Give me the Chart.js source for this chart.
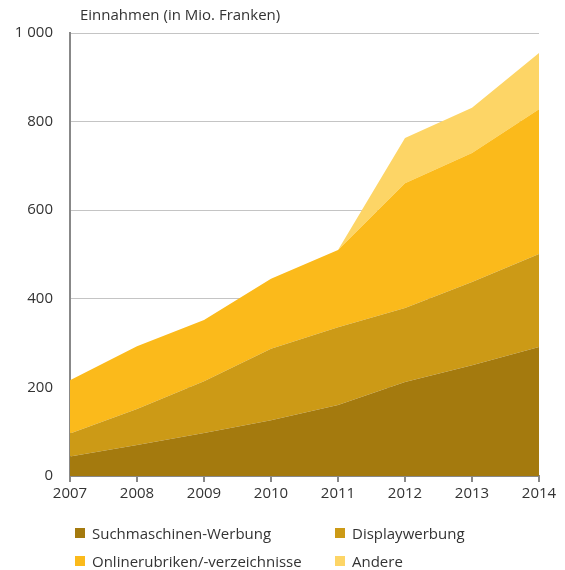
<!DOCTYPE html>
<html><head><meta charset="utf-8">
<script src="https://cdn.jsdelivr.net/npm/chart.js@4/dist/chart.umd.min.js"></script>
<style>
html,body{margin:0;padding:0;background:#fff;}
#wrap{position:relative;width:565px;height:570px;}
#legend{position:absolute;left:0;top:523px;width:565px;font-family:"Open Sans","Noto Sans",sans-serif;font-size:15px;color:#333;}
.li{position:absolute;display:flex;align-items:center;white-space:nowrap;}
.sw{width:10px;height:10px;margin-right:7px;}
</style></head>
<body><div id="wrap"><canvas id="c" width="565" height="570"></canvas><div id="legend"></div></div>
<script>
const years = ["2007","2008","2009","2010","2011","2012","2013","2014"];
const suchmaschinen = [44, 70, 97, 126, 160, 212, 250, 291];
const display = [52, 81, 117, 161, 176, 167, 188, 210];
const online = [120, 142, 138, 158, 174, 282, 291, 327];
const andere = [0, 0, 0, 0, 0, 102, 102, 127];
const seriesNames = ["Suchmaschinen-Werbung","Displaywerbung","Onlinerubriken/-verzeichnisse","Andere"];
const colors = ["#A47A0E","#CC9A16","#FBBA1B","#FDD566"];
const yTicks = [0,200,400,600,800,1000];

const FONT = '"Open Sans","Noto Sans",sans-serif';
const values = [suchmaschinen, display, online, andere];
const datasets = values.map((v,i)=>({
  label: seriesNames[i], data: v, backgroundColor: colors[i], borderColor: colors[i],
  borderWidth: 0, pointRadius: 0, fill: i===0 ? 'origin' : '-1', tension: 0
}));

const titlePlugin = {
  id:'ytitle',
  afterDraw(chart){
    const ctx = chart.ctx;
    ctx.save();
    ctx.font = '15px ' + FONT;
    ctx.fillStyle = '#333';
    ctx.textBaseline = 'middle';
    ctx.textAlign = 'left';
    ctx.fillText('Einnahmen (in Mio. Franken)', 80, 16);
    ctx.restore();
  }
};

new Chart(document.getElementById('c'), {
  type:'line',
  data:{labels: years, datasets},
  options:{
    responsive:false, animation:false,
    layout:{padding:{left:0,right:26,top:33,bottom:64}},
    plugins:{legend:{display:false}, tooltip:{enabled:false}},
    elements:{line:{borderWidth:0}},
    scales:{
      x:{
        offset:false,
        afterFit(s){ s.height = 30; },
        grid:{display:true, drawOnChartArea:false, drawTicks:true, tickLength:6, color:'#888', lineWidth:2},
        border:{display:true, color:'#888', width:2},
        ticks:{font:{family:FONT,size:15}, color:'#333', padding:3, maxRotation:0}
      },
      y:{
        stacked:true, min:0, max:1000,
        afterFit(s){ s.width = 70; },
        afterBuildTicks(s){ s.ticks = yTicks.map(v=>({value:v})); },
        grid:{color:'#c4c4c4', lineWidth:1, drawTicks:false},
        border:{display:true, color:'#888', width:2},
        ticks:{font:{family:FONT,size:15}, color:'#333', padding:17,
          callback:(v)=> v>=1000 ? String(v).replace(/\B(?=(\d{3})+(?!\d))/g,' ') : String(v)}
      }
    }
  },
  plugins:[titlePlugin]
});

const pos = [[75,0],[335,0],[75,28],[335,28]];
const leg = document.getElementById('legend');
seriesNames.forEach((n,i)=>{
  const d=document.createElement('div'); d.className='li';
  d.style.left=pos[i][0]+'px'; d.style.top=pos[i][1]+'px';
  d.innerHTML='<span class="sw" style="background:'+colors[i]+'"></span>'+n;
  leg.appendChild(d);
});
</script></body></html>
